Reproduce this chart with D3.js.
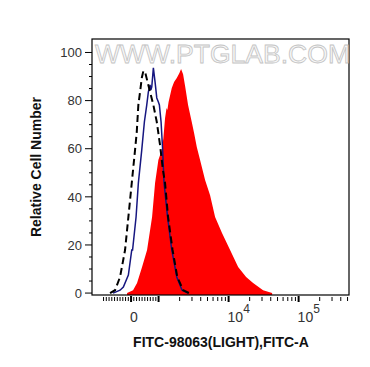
<!DOCTYPE html>
<html>
<head>
<meta charset="utf-8">
<script src="https://cdn.jsdelivr.net/npm/d3@7"></script>
<style>
  body { margin: 0; background: #fff; }
  svg { display: block; }
</style>
</head>
<body>
<div id="chart"></div>
<script>
// histogram traces: [fluorescence, relative count]
var sample = [[-145,0],[73,1.2],[218,4.2],[400,10.8],[582,17.9],[764,31.6],[873,45.7],
  [993,55.3],[1111,59.5],[1171,64.4],[1238,72.8],[1300,76.9],[1336,76.1],[1390,79.4],
  [1544,85.2],[1665,87.7],[1820,89.4],[1985,91.5],[2096,93.1],[2240,91],[2392,86.1],
  [2638,78.2],[2979,71.1],[3214,66.5],[3513,60.7],[3915,55.3],[4615,47],[5441,40.7],
  [6414,31.6],[8082,24.9],[10505,17.9],[13690,10.8],[17783,6.7],[22387,4.2],
  [31087,1.2],[41860,0]];
var isotype = [[-655,0],[-400,1.2],[-280,2.5],[-98,7.5],[25,17.9],[55,17.9],[182,31.6],
  [265,45.7],[389,59.5],[484,71.1],[571,78.2],[629,83.6],[691,86.5],[720,84.4],[753,85.7],
  [811,93.6],[873,87.7],[935,81.1],[993,79.4],[1027,78.2],[1086,71.1],[1140,60.3],
  [1198,45.7],[1345,31.6],[1544,17.9],[1820,6.7],[2165,1.2],[2638,0]];
var blank = [[-764,0],[-582,1.2],[-400,6.7],[-218,17.9],[-98,31.6],[25,45.7],[145,59.5],
  [207,66.9],[265,78.2],[345,85.2],[389,89.4],[447,92.3],[509,91.9],[655,85.2],[811,78.2],
  [935,71.1],[1050,61.5],[1155,51.1],[1238,45.7],[1367,31.6],[1585,17.9],[1850,6.7],
  [2240,1.2],[2730,0]];

var yTicks = [0, 20, 40, 60, 80, 100];
var xMajor = [0, 1000, 10000, 100000];
var xLabels = [{v: 0, base: "0", sup: ""}, {v: 10000, base: "10", sup: "4"}, {v: 100000, base: "10", sup: "5"}];

var W = 370, H = 367;
var pL = 92, pR = 349, pT = 39, pB = 295;

var svg = d3.select("#chart").append("svg")
    .attr("width", W)
    .attr("height", H);

// biexponential-like transform: linear near zero, log above 10^3
function tf(v) {
  var lin = 27.5 / 70;
  if (v <= 1000) return v / 1000 * lin;
  return lin + Math.log10(v / 1000);
}
var xs = d3.scaleLinear().domain([tf(-1420), tf(524288)]).range([pL, pR]);
var x = function(v) { return xs(tf(v)); };
var y = d3.scaleLinear().domain([-0.8, 105.6]).range([pB, pT]);

svg.append("clipPath").attr("id", "clip")
  .append("rect").attr("x", pL).attr("y", pT)
  .attr("width", pR - pL).attr("height", pB - pT);

var plot = svg.append("g").attr("clip-path", "url(#clip)");

var area = d3.area()
    .x(function(d) { return x(d[0]); })
    .y0(y(-0.8))
    .y1(function(d) { return y(d[1]); });
var line = d3.line()
    .x(function(d) { return x(d[0]); })
    .y(function(d) { return y(d[1]); });

plot.append("path").datum(sample)
    .attr("d", area)
    .attr("fill", "#ff0000");

plot.append("path").datum(isotype)
    .attr("d", line)
    .attr("fill", "none")
    .attr("stroke", "#161680")
    .attr("stroke-width", 1.5);

plot.append("path").datum(blank)
    .attr("d", line)
    .attr("fill", "none")
    .attr("stroke", "#000")
    .attr("stroke-width", 2)
    .attr("stroke-dasharray", "7,4");

// frame
svg.append("rect")
    .attr("x", pL).attr("y", pT)
    .attr("width", pR - pL).attr("height", pB - pT)
    .attr("fill", "none").attr("stroke", "#000").attr("stroke-width", 1.2);

// y axis ticks
var yMinor = d3.range(0, 105, 5).filter(function(d) { return d % 20 !== 0; });
svg.selectAll(".ymin").data(yMinor).enter().append("line")
    .attr("x1", pL - 3).attr("x2", pL)
    .attr("y1", function(d) { return y(d); }).attr("y2", function(d) { return y(d); })
    .attr("stroke", "#000");
svg.selectAll(".ymaj").data(yTicks).enter().append("line")
    .attr("x1", pL - 7).attr("x2", pL)
    .attr("y1", function(d) { return y(d); }).attr("y2", function(d) { return y(d); })
    .attr("stroke", "#000");
svg.selectAll(".ylab").data(yTicks).enter().append("text")
    .attr("x", 82).attr("y", function(d) { return y(d); })
    .attr("dy", "0.36em")
    .attr("text-anchor", "end")
    .style("font-family", "Liberation Sans, Arial, sans-serif")
    .style("font-size", "13px")
    .style("fill", "#333")
    .text(function(d) { return d; });

// x axis ticks
var xMinor = [];
d3.range(-1000, 1000, 100).forEach(function(v) { if (v !== 0) xMinor.push(v); });
[1000, 10000, 100000].forEach(function(dec) {
  d3.range(2, 10).forEach(function(k) { if (k * dec < 524288) xMinor.push(k * dec); });
});
svg.selectAll(".xmin").data(xMinor).enter().append("line")
    .attr("x1", function(d) { return x(d); }).attr("x2", function(d) { return x(d); })
    .attr("y1", pB + 2).attr("y2", pB + 6)
    .attr("stroke", "#000");
svg.selectAll(".xmaj").data(xMajor).enter().append("line")
    .attr("x1", function(d) { return x(d); }).attr("x2", function(d) { return x(d); })
    .attr("y1", pB + 1).attr("y2", pB + 7)
    .attr("stroke", "#000").attr("stroke-width", 2);

var xl = svg.selectAll(".xlab").data(xLabels).enter().append("text")
    .attr("x", function(d) { return x(d.v) - 1; })
    .attr("y", 322)
    .style("font-family", "Liberation Sans, Arial, sans-serif")
    .style("font-size", "14px")
    .style("fill", "#333");
xl.append("tspan").text(function(d) { return d.base; });
xl.append("tspan").attr("dy", -9).style("font-size", "12px").text(function(d) { return d.sup; });

// axis titles
svg.append("text")
    .attr("x", 221).attr("y", 347)
    .attr("text-anchor", "middle")
    .style("font-family", "Liberation Sans, Arial, sans-serif")
    .style("font-size", "14px").style("font-weight", "bold")
    .style("fill", "#111")
    .text("FITC-98063(LIGHT),FITC-A");

svg.append("text")
    .attr("transform", "translate(41,167) rotate(-90)")
    .attr("text-anchor", "middle")
    .style("font-family", "Liberation Sans, Arial, sans-serif")
    .style("font-size", "14px").style("font-weight", "bold")
    .style("fill", "#111")
    .text("Relative Cell Number");

// watermark
svg.append("text")
    .attr("x", 95).attr("y", 63)
    .attr("textLength", 255).attr("lengthAdjust", "spacingAndGlyphs")
    .style("font-family", "Liberation Sans, Arial, sans-serif")
    .style("font-size", "25px")
    .style("fill", "#f8f8f8")
    .style("stroke", "#c4c4c4")
    .style("stroke-width", 0.8)
    .text("WWW.PTGLAB.COM");
</script>
</body>
</html>
